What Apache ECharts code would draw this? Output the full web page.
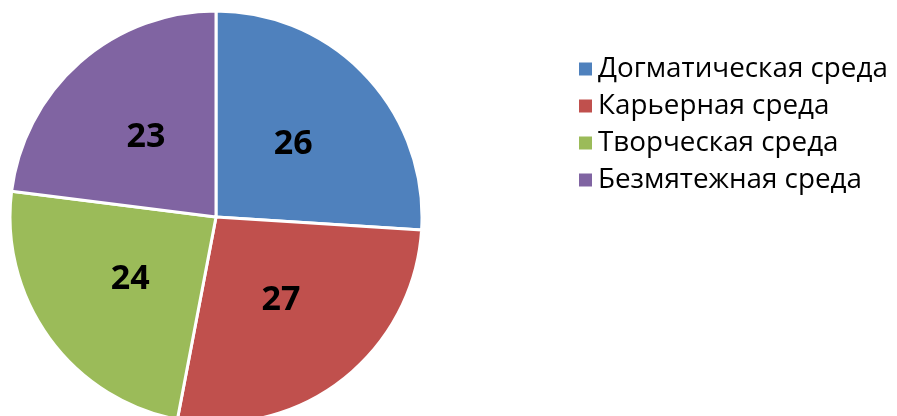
<!DOCTYPE html>
<html>
<head>
<meta charset="utf-8">
<script src="https://cdn.jsdelivr.net/npm/echarts@6/dist/echarts.min.js"></script>
<style>
  html, body { margin: 0; padding: 0; background: #fff; }
  #main { width: 897px; height: 416px; }
</style>
</head>
<body>
<div id="main"></div>
<script>
var names = ['Догматическая среда', 'Карьерная среда', 'Творческая среда', 'Безмятежная среда'];
var values = [26, 27, 24, 23];
var colors = ['#4F81BD', '#C0504D', '#9BBB59', '#8064A2'];

var chart = echarts.init(document.getElementById('main'));

var pieData = names.map(function (n, i) {
  return { name: n, value: values[i], itemStyle: { color: colors[i] } };
});

var option = {
  animation: false,
  legend: {
    orient: 'vertical',
    left: 572,
    top: 50,
    itemWidth: 15,
    itemHeight: 15,
    itemGap: 9,
    icon: 'rect',
    textStyle: {
      fontFamily: 'Open Sans',
      fontSize: 27.8,
      color: '#000',
      lineHeight: 27.8
    },
    data: names
  },
  series: [
    {
      type: 'pie',
      center: [216, 217],
      radius: 206,
      startAngle: 90,
      clockwise: true,
      itemStyle: { borderColor: '#fff', borderWidth: 3 },
      label: {
        show: true,
        position: 'inside',
        formatter: '{c}',
        fontFamily: 'Open Sans',
        fontWeight: 'bold',
        fontSize: 34,
        color: '#000'
      },
      labelLine: { show: false },
      emphasis: { disabled: true },
      data: pieData
    }
  ]
};

chart.setOption(option);
</script>
</body>
</html>
